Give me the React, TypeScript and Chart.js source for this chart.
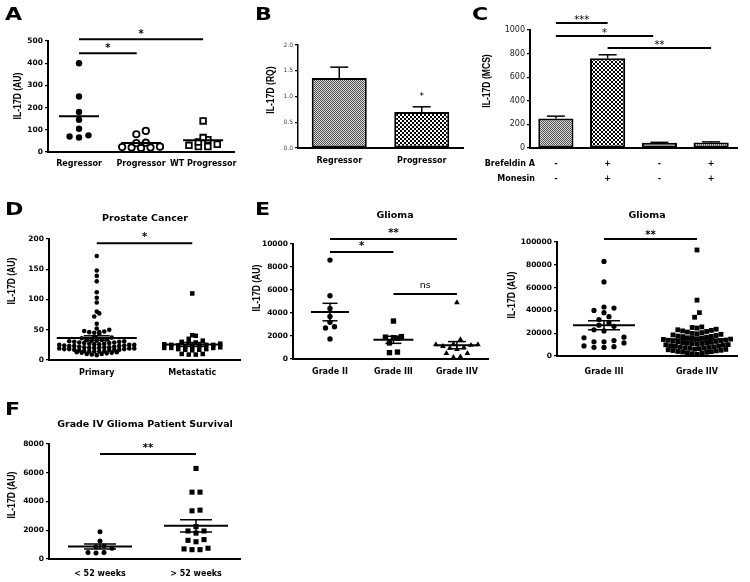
import React, { useEffect, useRef } from 'react';
import { Chart, registerables } from 'chart.js';

Chart.register(...registerables);

// ================= DATA =================
// Panel A
const aCategories = ['Regressor', 'Progressor', 'WT Progressor'];
const aRegressor = [400, 250, 180, 145, 105, 75, 65, 70];
const aProgressor = [95, 80, 42, 40, 24, 22, 20, 20, 18];
const aWTProgressor = [140, 65, 55, 45, 35, 30, 25, 25];

// Panel B
const bCategories = ['Regressor', 'Progressor'];
const bMeans = [1.36, 0.7];
const bErrors = [0.21, 0.1];

// Panel C
const cBrefeldinA = ['-', '+', '-', '+'];
const cMonesin = ['-', '+', '-', '+'];
const cMeans = [250, 760, 45, 47];
const cErrors = [20, 30, 3, 5];

// Panel D
const dCategories = ['Primary', 'Metastatic'];
const dPrimary = [
  172, 148, 139, 130, 112, 103, 95, 80, 77, 72, 60, 52, 50, 48, 47, 46, 46, 45, 43, 38, 37, 36,
  34, 33, 33, 32, 32, 31, 31, 30, 30, 29, 29, 28, 28, 27, 27, 26,
  26, 25, 25, 25, 24, 24, 23, 23, 23, 22, 22, 21, 21, 21, 20, 20,
  20, 19, 19, 19, 18, 18, 18, 17, 17, 17, 16, 16, 15, 15, 14, 14,
  14, 13, 13, 12, 12, 11, 10, 10, 9, 8,
];
const dMetastatic = [110, 41, 40, 35, 32, 30, 29, 28, 27, 26, 25, 25, 25, 24, 24, 22, 22, 21, 20, 20, 20, 18, 18, 17, 17, 16, 10, 10, 9, 9];

// Panel E (left)
const eCategories = ['Grade II', 'Grade III', 'Grade IIV'];
const eGradeII = [8600, 5500, 4400, 3700, 3200, 2800, 2700, 1750];
const eGradeIII = [3300, 1950, 1900, 1850, 1800, 1400, 600, 550];
const eGradeIIV = [4900, 1700, 1300, 1250, 1250, 1200, 1100, 1000, 950, 850, 500, 500, 200, 150];

// Panel E (right)
const e2Categories = ['Grade III', 'Grade IIV'];
const e2GradeIII = [83000, 65000, 43000, 42000, 40000, 38000, 34500, 32000, 29000, 27000, 26000, 23000, 22000, 16500, 16000, 13500, 12500, 12500, 11500, 8800, 8200, 7600, 7500];
const e2GradeIIV = [
  93000, 49000, 38000, 34000,
  25500, 25000, 24500, 23500, 23000, 22500, 22000, 21500, 21000, 20500,
  19800, 19500, 19000, 18500, 18000, 17500, 17200, 17000, 16500, 16000, 15800, 15500, 15000,
  14800, 14500, 14000, 13800, 13500, 13000, 12800, 12500, 12000, 11800, 11500, 11200, 11000,
  10800, 10500, 10000, 9800, 9500, 9000, 8800, 8500, 8000, 7800, 7500, 7200, 7000,
  6800, 6500, 6000, 5800, 5500, 5000, 4800, 4500, 4000, 3800, 3500, 3200,
  2800, 2500, 2000, 1500,
];

// Panel F
const fCategories = ['< 52 weeks', '> 52 weeks'];
const fUnder52 = [1900, 1250, 900, 850, 750, 450, 450, 420];
const fOver52 = [6300, 4650, 4650, 3400, 3350, 2250, 1950, 1950, 1800, 1350, 1300, 1200, 750, 700, 650, 650];

// ================= HELPERS =================
type Box = { left: number; top: number; width: number; height: number };
type Area = { x0: number; x1: number; yT: number; yB: number };
type Sig = { from: number; to: number; at: number; label: string; font: string; gap: number; line?: boolean };
type Summary = { cat: number; values: number[]; half: number; cap: number };
type ErrBar = { cat: number; value: number; err: number; cap: number };
type PageText = { text: string; x: number; y: number; font: string; align: CanvasTextAlign; baseline: CanvasTextBaseline };
type Overlay = {
  box: Box;
  yTitle?: { text: string; x: number; y: number };
  texts?: PageText[];
  sigs?: Sig[];
  summaries?: Summary[];
  errors?: ErrBar[];
};

const FAMILY = '"DejaVu Sans", "Liberation Sans", sans-serif';
const STAR = `bold 10px ${FAMILY}`;
const STAR_N = `10px ${FAMILY}`;
const TITLE_FONT = `bold 9.5px ${FAMILY}`;
const tickFontBold = { family: FAMILY, size: 7.5, weight: 'bold' as const };
const catFont = { family: FAMILY, size: 8, weight: 'bold' as const };

function stats(v: number[]) {
  const n = v.length;
  const m = v.reduce((a, b) => a + b, 0) / n;
  const sd = Math.sqrt(v.reduce((a, b) => a + (b - m) * (b - m), 0) / (n - 1));
  return { mean: m, sem: sd / Math.sqrt(n) };
}

// bee-swarm layout: rows of near-equal values spread centre-out
function swarm(values: number[], center: number, binValue: number, stepX: number) {
  const sorted = [...values].sort((a, b) => a - b);
  const pts: { x: number; y: number }[] = [];
  let i = 0;
  while (i < sorted.length) {
    const start = sorted[i];
    const row: number[] = [];
    while (i < sorted.length && sorted[i] - start < binValue) {
      row.push(sorted[i]);
      i++;
    }
    const n = row.length;
    const offs: number[] = [];
    if (n % 2 === 1) {
      offs.push(0);
      for (let k = 1; offs.length < n; k++) {
        offs.push(-k);
        if (offs.length < n) offs.push(k);
      }
    } else {
      for (let k = 0; offs.length < n; k++) {
        offs.push(-(k + 0.5));
        if (offs.length < n) offs.push(k + 0.5);
      }
    }
    row.forEach((v, j) => pts.push({ x: center + offs[j] * stepX, y: v }));
  }
  return pts;
}

function makeOverlay(o: Overlay) {
  return {
    id: 'overlay',
    afterDraw(chart: any) {
      const ctx: CanvasRenderingContext2D = chart.ctx;
      const xs = chart.scales.x;
      const ys = chart.scales.y;
      const cx = (c: number) => (xs.type === 'category' ? xs.getPixelForValue(c) : xs.getPixelForValue(c + 1));
      const line = (x1: number, y1: number, x2: number, y2: number) => {
        ctx.beginPath();
        ctx.moveTo(x1, y1);
        ctx.lineTo(x2, y2);
        ctx.stroke();
      };
      ctx.save();
      ctx.strokeStyle = '#000';
      ctx.fillStyle = '#000';
      for (const s of o.summaries || []) {
        const { mean, sem } = stats(s.values);
        const x = cx(s.cat);
        const y = ys.getPixelForValue(mean);
        ctx.lineWidth = 2;
        line(x - s.half, y, x + s.half, y);
        if (s.cap > 0) {
          const yu = ys.getPixelForValue(mean + sem);
          const yl = ys.getPixelForValue(mean - sem);
          ctx.lineWidth = 1.5;
          line(x, yu, x, yl);
          line(x - s.cap, yu, x + s.cap, yu);
          line(x - s.cap, yl, x + s.cap, yl);
        }
      }
      for (const e of o.errors || []) {
        const x = cx(e.cat);
        const y0 = ys.getPixelForValue(e.value);
        const y1 = ys.getPixelForValue(e.value + e.err);
        ctx.lineWidth = 1.5;
        line(x, y0, x, y1);
        line(x - e.cap, y1, x + e.cap, y1);
      }
      for (const s of o.sigs || []) {
        const y = ys.getPixelForValue(s.at);
        const xa = cx(s.from);
        const xb = cx(s.to);
        if (s.line !== false) {
          ctx.lineWidth = 2;
          line(xa, y, xb, y);
        }
        ctx.font = s.font;
        ctx.textAlign = 'center';
        ctx.textBaseline = 'alphabetic';
        ctx.fillText(s.label, (xa + xb) / 2, y - s.gap);
      }
      for (const t of o.texts || []) {
        ctx.font = t.font;
        ctx.textAlign = t.align;
        ctx.textBaseline = t.baseline;
        ctx.fillText(t.text, t.x - o.box.left, t.y - o.box.top);
      }
      if (o.yTitle) {
        ctx.save();
        ctx.translate(o.yTitle.x - o.box.left, o.yTitle.y - o.box.top);
        ctx.scale(1.3, 1);
        ctx.rotate(-Math.PI / 2);
        ctx.font = 'bold 8.6px "Liberation Sans", Arial, sans-serif';
        ctx.textAlign = 'center';
        ctx.textBaseline = 'middle';
        ctx.fillText(o.yTitle.text, 0, 0);
        ctx.restore();
      }
      ctx.restore();
    },
  };
}

function baseOptions(box: Box, area: Area) {
  return {
    responsive: false,
    animation: false as const,
    events: [] as any[],
    layout: { padding: { left: 0, top: area.yT - box.top, right: box.left + box.width - area.x1, bottom: 0 } },
    plugins: { legend: { display: false }, tooltip: { enabled: false }, title: { display: false } },
  };
}

function yAxis(box: Box, area: Area, max: number, step: number, fmt: (v: number) => string, font: any, color: string, borderWidth = 2) {
  const w = area.x0 - box.left;
  return {
    type: 'linear' as const,
    position: 'left' as const,
    min: 0,
    max,
    ticks: { stepSize: step, font, color, padding: 2, callback: (v: any) => fmt(Number(v)) },
    grid: { drawOnChartArea: false, drawTicks: true, tickLength: 3, color: '#000', lineWidth: 1.2 },
    border: { display: true, color: '#000', width: borderWidth },
    afterFit: (s: any) => {
      s.width = w;
    },
  };
}

function xLinear(box: Box, area: Area, cats: string[], xMin: number, xMax: number, pad: number) {
  const h = box.top + box.height - area.yB;
  return {
    type: 'linear' as const,
    position: 'bottom' as const,
    min: xMin,
    max: xMax,
    afterBuildTicks: (s: any) => {
      s.ticks = cats.map((_, i) => ({ value: i + 1 }));
    },
    ticks: {
      callback: (v: any) => cats[Math.round(Number(v)) - 1] ?? '',
      font: catFont,
      color: '#000',
      padding: pad,
      maxRotation: 0,
      autoSkip: false,
    },
    grid: { display: false, drawTicks: false },
    border: { display: true, color: '#000', width: 2 },
    afterFit: (s: any) => {
      s.height = h;
    },
  };
}

function xCategory(box: Box, area: Area, pad: number, font: any) {
  const h = box.top + box.height - area.yB;
  return {
    type: 'category' as const,
    position: 'bottom' as const,
    ticks: { font, color: '#000', padding: pad, maxRotation: 0, autoSkip: false },
    grid: { display: false, drawTicks: false },
    border: { display: true, color: '#000', width: 2 },
    afterFit: (s: any) => {
      s.height = h;
    },
  };
}

type Group = { values: number[]; style: string; radius: number; fill: string; bw: number; binPx: number; stepPx: number; half: number; cap: number };
type ScatterPanel = {
  box: Box;
  area: Area;
  xMin: number;
  xMax: number;
  yMax: number;
  yStep: number;
  cats: string[];
  tickPad: number;
  groups: Group[];
  yTitle: { text: string; x: number; y: number };
  title?: { text: string; x: number; y: number };
  sigs: Sig[];
};

function scatterConfig(p: ScatterPanel) {
  const uy = p.yMax / (p.area.yB - p.area.yT);
  const ux = (p.xMax - p.xMin) / (p.area.x1 - p.area.x0);
  const datasets = p.groups.map((g, i) => ({
    data: swarm(g.values, i + 1, g.binPx * uy, g.stepPx * ux),
    pointStyle: g.style,
    pointRadius: g.radius,
    pointBackgroundColor: g.fill,
    pointBorderColor: '#000',
    pointBorderWidth: g.bw,
    showLine: false,
  }));
  const summaries = p.groups.map((g, i) => ({ cat: i, values: g.values, half: g.half, cap: g.cap }));
  const texts: PageText[] = p.title
    ? [{ text: p.title.text, x: p.title.x, y: p.title.y, font: TITLE_FONT, align: 'center', baseline: 'alphabetic' }]
    : [];
  return {
    type: 'scatter' as const,
    data: { datasets },
    options: {
      ...baseOptions(p.box, p.area),
      scales: {
        x: xLinear(p.box, p.area, p.cats, p.xMin, p.xMax, p.tickPad),
        y: yAxis(p.box, p.area, p.yMax, p.yStep, (v) => String(v), tickFontBold, '#000'),
      },
    },
    plugins: [makeOverlay({ box: p.box, summaries, texts, yTitle: p.yTitle, sigs: p.sigs })],
  };
}

// ---- fill patterns ----
function tile(w: number, h: number, draw: (g: CanvasRenderingContext2D) => void) {
  const c = document.createElement('canvas');
  c.width = w;
  c.height = h;
  draw(c.getContext('2d')!);
  return c;
}
function patterns(ctx: CanvasRenderingContext2D) {
  const fine = tile(2, 2, (g) => {
    g.fillStyle = '#dcdcdc';
    g.fillRect(0, 0, 2, 2);
    g.fillStyle = '#505050';
    g.fillRect(0, 0, 1, 1);
    g.fillRect(1, 1, 1, 1);
  });
  const checker = tile(4, 4, (g) => {
    g.fillStyle = '#fff';
    g.fillRect(0, 0, 4, 4);
    g.fillStyle = '#000';
    g.fillRect(0, 0, 2, 2);
    g.fillRect(2, 2, 2, 2);
  });
  const stripes = tile(2, 2, (g) => {
    g.fillStyle = '#fff';
    g.fillRect(0, 0, 2, 2);
    g.fillStyle = '#333';
    g.fillRect(0, 0, 1, 2);
  });
  return {
    fine: ctx.createPattern(fine, 'repeat')!,
    checker: ctx.createPattern(checker, 'repeat')!,
    stripes: ctx.createPattern(stripes, 'repeat')!,
  };
}

// ================= PANELS =================
type PanelDef = { box: Box; build: (ctx: CanvasRenderingContext2D) => any };

const boxA: Box = { left: 0, top: 20, width: 245, height: 160 };
const panelA: PanelDef = {
  box: boxA,
  build: () =>
    scatterConfig({
      box: boxA,
      area: { x0: 48, x1: 235, yT: 41, yB: 152 },
      xMin: 0.5,
      xMax: 3.5,
      yMax: 500,
      yStep: 100,
      cats: aCategories,
      tickPad: 7,
      groups: [
        { values: aRegressor, style: 'circle', radius: 3.2, fill: '#000', bw: 0, binPx: 3.4, stepPx: 9.5, half: 20, cap: 0 },
        { values: aProgressor, style: 'circle', radius: 3.2, fill: '#fff', bw: 1.8, binPx: 3.4, stepPx: 9.5, half: 20, cap: 0 },
        { values: aWTProgressor, style: 'rect', radius: 4, fill: '#fff', bw: 1.8, binPx: 3.4, stepPx: 9.5, half: 20, cap: 0 },
      ],
      yTitle: { text: 'IL-17D (AU)', x: 18, y: 96 },
      sigs: [
        { from: 0, to: 2, at: 508, label: '*', font: STAR, gap: 2 },
        { from: 0, to: 0.93, at: 445, label: '*', font: STAR, gap: 2 },
      ],
    }),
};

const boxB: Box = { left: 250, top: 20, width: 225, height: 160 };
const areaB: Area = { x0: 298, x1: 463, yT: 45, yB: 148 };
const panelB: PanelDef = {
  box: boxB,
  build: (ctx) => {
    const p = patterns(ctx);
    return {
      type: 'bar',
      data: {
        labels: bCategories,
        datasets: [
          {
            data: bMeans,
            backgroundColor: [p.fine, p.checker],
            borderColor: '#000',
            borderWidth: 2,
            borderSkipped: false,
            barPercentage: 0.667,
            categoryPercentage: 1,
          },
        ],
      },
      options: {
        ...baseOptions(boxB, areaB),
        scales: {
          x: xCategory(boxB, areaB, 8, catFont),
          y: yAxis(boxB, areaB, 2, 0.5, (v) => v.toFixed(1), { family: FAMILY, size: 6 }, '#444', 1.5),
        },
      },
      plugins: [
        makeOverlay({
          box: boxB,
          yTitle: { text: 'IL-17D (RQ)', x: 270.5, y: 90 },
          errors: bMeans.map((v, i) => ({ cat: i, value: v, err: bErrors[i], cap: 9 })),
          sigs: [{ from: 1, to: 1, at: 0.95, label: '*', font: `9px ${FAMILY}`, gap: 0, line: false }],
        }),
      ],
    };
  },
};

const boxC: Box = { left: 475, top: 5, width: 275, height: 185 };
const areaC: Area = { x0: 530, x1: 737, yT: 30, yB: 148 };
const panelC: PanelDef = {
  box: boxC,
  build: (ctx) => {
    const p = patterns(ctx);
    return {
      type: 'bar',
      data: {
        labels: cBrefeldinA.map((b, i) => [b, cMonesin[i]]),
        datasets: [
          {
            data: cMeans,
            backgroundColor: [p.fine, p.checker, '#a8a8a8', p.stripes],
            borderColor: '#000',
            borderWidth: 2,
            borderSkipped: false,
            barPercentage: 0.68,
            categoryPercentage: 1,
          },
        ],
      },
      options: {
        ...baseOptions(boxC, areaC),
        scales: {
          x: xCategory(boxC, areaC, 8.5, { family: FAMILY, size: 8, weight: 'bold', lineHeight: 1.875 }),
          y: yAxis(boxC, areaC, 1000, 200, (v) => String(v), { family: FAMILY, size: 8 }, '#222'),
        },
      },
      plugins: [
        makeOverlay({
          box: boxC,
          yTitle: { text: 'IL-17D (MCS)', x: 487, y: 81 },
          errors: cMeans.map((v, i) => ({ cat: i, value: v, err: cErrors[i], cap: 9 })),
          sigs: [
            { from: 0, to: 1, at: 1059, label: '***', font: STAR_N, gap: 0.5 },
            { from: 0, to: 1.88, at: 949, label: '*', font: STAR_N, gap: 0.5 },
            { from: 1, to: 3, at: 847, label: '**', font: STAR_N, gap: 0.5 },
          ],
          texts: [
            { text: 'Brefeldin A', x: 535, y: 164, font: `bold 8px ${FAMILY}`, align: 'right', baseline: 'middle' },
            { text: 'Monesin', x: 535, y: 179, font: `bold 8px ${FAMILY}`, align: 'right', baseline: 'middle' },
          ],
        }),
      ],
    };
  },
};

const boxD: Box = { left: 0, top: 195, width: 250, height: 185 };
const panelD: PanelDef = {
  box: boxD,
  build: () =>
    scatterConfig({
      box: boxD,
      area: { x0: 49, x1: 240, yT: 239, yB: 360 },
      xMin: 0.5,
      xMax: 2.5,
      yMax: 200,
      yStep: 50,
      cats: dCategories,
      tickPad: 8,
      groups: [
        { values: dPrimary, style: 'circle', radius: 2.3, fill: '#000', bw: 0, binPx: 3.5, stepPx: 5, half: 40, cap: 13 },
        { values: dMetastatic, style: 'rect', radius: 3.2, fill: '#000', bw: 0, binPx: 3.5, stepPx: 7, half: 30, cap: 13 },
      ],
      yTitle: { text: 'IL-17D (AU)', x: 12, y: 281 },
      title: { text: 'Prostate Cancer', x: 145, y: 221 },
      sigs: [{ from: 0, to: 1, at: 193, label: '*', font: STAR, gap: 2.8 }],
    }),
};

const boxE: Box = { left: 250, top: 195, width: 250, height: 185 };
const panelE: PanelDef = {
  box: boxE,
  build: () =>
    scatterConfig({
      box: boxE,
      area: { x0: 293, x1: 488, yT: 244, yB: 359 },
      xMin: 0.417,
      xMax: 3.49,
      yMax: 10000,
      yStep: 2000,
      cats: eCategories,
      tickPad: 7.7,
      groups: [
        { values: eGradeII, style: 'circle', radius: 2.7, fill: '#000', bw: 0, binPx: 5, stepPx: 9, half: 19, cap: 7.5 },
        { values: eGradeIII, style: 'rect', radius: 3.8, fill: '#000', bw: 0, binPx: 5, stepPx: 8, half: 20, cap: 8 },
        { values: eGradeIIV, style: 'triangle', radius: 3.3, fill: '#000', bw: 0, binPx: 5, stepPx: 7, half: 21, cap: 9 },
      ],
      yTitle: { text: 'IL-17D (AU)', x: 257, y: 288 },
      title: { text: 'Glioma', x: 395, y: 217.5 },
      sigs: [
        { from: 0, to: 2, at: 10440, label: '**', font: STAR, gap: 2.8 },
        { from: 0, to: 1, at: 9309, label: '*', font: STAR, gap: 2.8 },
        { from: 1, to: 2, at: 5655, label: 'ns', font: `9.5px ${FAMILY}`, gap: 5.6 },
      ],
    }),
};

const boxE2: Box = { left: 500, top: 195, width: 250, height: 185 };
const panelE2: PanelDef = {
  box: boxE2,
  build: () =>
    scatterConfig({
      box: boxE2,
      area: { x0: 557, x1: 737, yT: 242, yB: 356 },
      xMin: 0.495,
      xMax: 2.43,
      yMax: 100000,
      yStep: 20000,
      cats: e2Categories,
      tickPad: 10.7,
      groups: [
        { values: e2GradeIII, style: 'circle', radius: 2.6, fill: '#000', bw: 0, binPx: 5, stepPx: 10, half: 31, cap: 16 },
        { values: e2GradeIIV, style: 'rect', radius: 3.4, fill: '#000', bw: 0, binPx: 5, stepPx: 4.8, half: 31, cap: 16 },
      ],
      yTitle: { text: 'IL-17D (AU)', x: 512, y: 295 },
      title: { text: 'Glioma', x: 647, y: 217.5 },
      sigs: [{ from: 0, to: 1, at: 102600, label: '**', font: STAR, gap: 1.5 }],
    }),
};

const boxF: Box = { left: 0, top: 400, width: 250, height: 182 };
const panelF: PanelDef = {
  box: boxF,
  build: () =>
    scatterConfig({
      box: boxF,
      area: { x0: 49, x1: 240, yT: 444, yB: 559 },
      xMin: 0.469,
      xMax: 2.458,
      yMax: 8000,
      yStep: 2000,
      cats: fCategories,
      tickPad: 10,
      groups: [
        { values: fUnder52, style: 'circle', radius: 2.5, fill: '#000', bw: 0, binPx: 5, stepPx: 8, half: 32, cap: 16 },
        { values: fOver52, style: 'rect', radius: 3.6, fill: '#000', bw: 0, binPx: 5, stepPx: 8, half: 32, cap: 16 },
      ],
      yTitle: { text: 'IL-17D (AU)', x: 12, y: 495 },
      title: { text: 'Grade IV Glioma Patient Survival', x: 145, y: 426.5 },
      sigs: [{ from: 0, to: 1, at: 7308, label: '**', font: STAR, gap: 2.8 }],
    }),
};

const panels: PanelDef[] = [panelA, panelB, panelC, panelD, panelE, panelE2, panelF];

const letters = [
  { t: 'A', x: 5, y: 6 },
  { t: 'B', x: 255, y: 6 },
  { t: 'C', x: 472, y: 6 },
  { t: 'D', x: 5, y: 201 },
  { t: 'E', x: 255, y: 201 },
  { t: 'F', x: 5, y: 401 },
];

function ChartCanvas({ def }: { def: PanelDef }) {
  const ref = useRef<HTMLCanvasElement | null>(null);
  useEffect(() => {
    const canvas = ref.current!;
    const chart = new Chart(canvas, def.build(canvas.getContext('2d')!));
    return () => chart.destroy();
  }, []);
  const b = def.box;
  return (
    <canvas
      ref={ref}
      width={b.width}
      height={b.height}
      style={{ position: 'absolute', left: b.left, top: b.top, width: b.width, height: b.height, display: 'block' }}
    />
  );
}

export default function App() {
  return (
    <div style={{ position: 'absolute', left: 0, top: 0, width: 750, height: 582, background: '#fff', overflow: 'hidden' }}>
      {panels.map((p, i) => (
        <ChartCanvas key={i} def={p} />
      ))}
      {letters.map((l) => (
        <div
          key={l.t}
          style={{
            position: 'absolute',
            left: l.x,
            top: l.y,
            font: `bold 17px ${FAMILY}`,
            lineHeight: '17px',
            transform: 'scaleX(1.3)',
            transformOrigin: 'left top',
            color: '#000',
          }}
        >
          {l.t}
        </div>
      ))}
    </div>
  );
}
